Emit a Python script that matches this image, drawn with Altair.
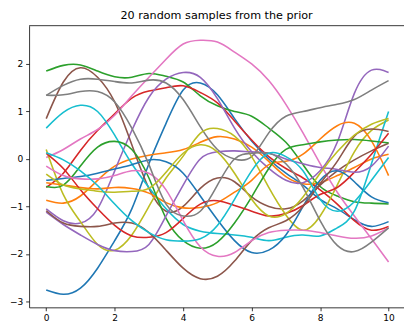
import altair as alt
import pandas as pd

XS = [i * 0.5 for i in range(21)]

blue_a = [-2.76, -2.85, -2.72, -2.3, -1.72, -1.05, -0.1, 0.75, 1.45, 1.6, 1.35, 0.85, 0.38, 0.0, -0.3, -0.55, -0.85, -1.05, -1.28, -1.42, -1.32]
orange_a = [-0.87, -0.93, -0.78, -0.45, -0.15, 0.0, 0.08, 0.13, 0.2, 0.35, 0.47, 0.42, 0.25, -0.05, -0.37, -0.52, -0.5, -0.35, -0.18, 0.0, 0.1]
green_a = [1.85, 1.97, 1.98, 1.85, 1.73, 1.72, 1.8, 1.74, 1.62, 1.33, 1.12, 1.0, 0.9, 0.65, 0.35, -0.12, -0.58, -0.78, -0.9, -0.93, -0.95]
red_a = [-0.6, -0.3, 0.18, 0.6, 0.95, 1.28, 1.43, 1.5, 1.54, 1.4, 1.18, 0.8, 0.4, 0.05, -0.2, -0.4, -0.65, -0.95, -1.3, -1.5, -1.42]
purple_a = [-1.05, -1.3, -1.35, -1.05, -0.25, 0.6, 1.3, 1.68, 1.82, 1.72, 1.27, 0.65, 0.15, -0.2, -0.45, -0.5, -0.25, 0.35, 1.38, 1.87, 1.82]
brown_a = [0.85, 1.62, 1.92, 1.72, 1.2, 0.3, -0.62, -1.1, -1.0, -0.62, -0.4, -0.48, -0.8, -1.0, -1.05, -0.88, -0.55, -0.25, -0.02, 0.17, 0.33]
pink_a = [0.03, 0.2, 0.42, 0.62, 0.92, 1.33, 1.72, 2.1, 2.42, 2.5, 2.46, 2.25, 2.0, 1.65, 1.15, 0.55, -0.1, -0.7, -1.2, -1.68, -2.17]
gray_a = [1.34, 1.55, 1.68, 1.68, 1.63, 1.6, 1.66, 1.6, 1.25, 0.68, 0.2, 0.0, 0.05, 0.55, 0.9, 1.0, 1.08, 1.15, 1.25, 1.45, 1.65]
olive_a = [0.2, -0.75, -1.32, -1.8, -1.92, -1.6, -1.0, -0.4, 0.06, 0.54, 0.64, 0.48, 0.05, -0.6, -1.18, -1.5, -1.2, -0.55, 0.15, 0.6, 0.82]
cyan_a = [0.65, 0.98, 1.13, 1.0, 0.5, -0.1, -0.6, -1.05, -1.38, -1.52, -1.57, -1.6, -1.65, -1.72, -1.65, -1.6, -1.62, -1.45, -1.1, -0.1, 1.0]

blue_b = [-0.45, -0.41, -0.37, -0.3, -0.21, -0.12, -0.02, -0.06, -0.3, -0.78, -1.28, -1.72, -1.97, -1.92, -1.6, -1.0, -0.45, -0.25, -0.48, -0.8, -0.92]
orange_b = [-0.5, -0.55, -0.6, -0.63, -0.6, -0.62, -0.72, -0.92, -1.03, -1.02, -0.92, -0.7, -0.45, -0.12, -0.05, 0.1, 0.42, 0.7, 0.75, 0.38, -0.35]
green_b = [-0.58, -0.55, -0.15, 0.25, 0.37, 0.2, -0.4, -1.25, -1.72, -1.88, -1.75, -1.35, -0.8, -0.2, 0.2, 0.3, 0.36, 0.4, 0.41, 0.38, 0.34]
red_b = [0.12, -0.2, -0.65, -1.05, -1.4, -1.62, -1.65, -1.55, -1.25, -0.95, -0.88, -0.98, -1.1, -1.2, -1.15, -0.98, -0.75, -0.6, -0.28, 0.1, 0.54]
purple_b = [-1.12, -1.38, -1.6, -1.8, -1.93, -1.95, -1.8, -1.2, -0.55, 0.0, 0.15, 0.17, 0.15, 0.12, 0.0, -0.1, -0.18, -0.22, -0.28, -0.15, 0.27]
brown_b = [-1.09, -1.35, -1.42, -1.42, -1.35, -1.35, -1.55, -1.92, -2.3, -2.52, -2.47, -2.15, -1.72, -1.45, -1.3, -1.0, -0.52, -0.05, 0.48, 0.63, 0.58]
pink_b = [-0.15, -0.35, -0.42, -0.42, -0.35, -0.25, -0.3, -0.65, -1.3, -1.85, -2.05, -1.97, -1.72, -1.55, -1.5, -1.5, -1.55, -1.62, -1.67, -1.62, -1.45]
gray_b = [1.34, 1.35, 1.42, 1.42, 1.2, 0.65, -0.12, -0.95, -1.2, -1.1, -0.55, 0.0, 0.12, 0.12, -0.1, -0.6, -1.3, -1.82, -1.95, -1.75, -1.45]
olive_b = [-0.32, -0.55, -0.63, -0.68, -0.7, -0.68, -0.62, -0.28, 0.12, 0.3, 0.15, -0.3, -0.85, -1.2, -1.15, -0.8, -0.3, 0.15, 0.5, 0.73, 0.85]
cyan_b = [0.13, -0.02, -0.25, -0.56, -0.95, -1.3, -1.55, -1.7, -1.73, -1.68, -1.4, -0.85, -0.25, 0.12, 0.05, -0.25, -0.85, -1.1, -0.9, -0.45, 0.03]

SERIES = [blue_a, orange_a, green_a, red_a, purple_a, brown_a, pink_a, gray_a, olive_a, cyan_a,
          blue_b, orange_b, green_b, red_b, purple_b, brown_b, pink_b, gray_b, olive_b, cyan_b]
TAB10 = ["#1f77b4", "#ff7f0e", "#2ca02c", "#d62728", "#9467bd",
         "#8c564b", "#e377c2", "#7f7f7f", "#bcbd22", "#17becf"]
NAMES = [f"s{i:02d}" for i in range(20)]
COLORS = [TAB10[i % 10] for i in range(20)]

X_TICKS = [0, 2, 4, 6, 8, 10]
Y_TICKS = [-3, -2, -1, 0, 1, 2]
TITLE = "20 random samples from the prior"

rows = []
for name, vals in zip(NAMES, SERIES):
    for x, y in zip(XS, vals):
        rows.append({"series": name, "x": x, "y": y})
df = pd.DataFrame(rows)

W, H = 382, 287

lines = alt.Chart(df).mark_line(strokeWidth=1.6, interpolate="natural", clip=True).encode(
    x=alt.X("x:Q", scale=alt.Scale(domain=[-0.5, 10.45], nice=False, zero=False),
            axis=alt.Axis(values=X_TICKS, title=None, format="d")),
    y=alt.Y("y:Q", scale=alt.Scale(domain=[-3.124, 2.806], nice=False, zero=False),
            axis=alt.Axis(values=Y_TICKS, title=None, format="d")),
    color=alt.Color("series:N", scale=alt.Scale(domain=NAMES, range=COLORS), legend=None),
    detail="series:N",
)

top = alt.Chart(pd.DataFrame({"a": [0]})).mark_rule(color="black", strokeWidth=0.8).encode(
    x=alt.value(0), x2=alt.value(W), y=alt.value(0)
)

chart = alt.layer(lines, top).properties(
    width=W, height=H,
    title=alt.TitleParams(TITLE, fontSize=11.4, font="DejaVu Sans", fontWeight="normal",
                          color="black", anchor="middle", offset=4),
    autosize=alt.AutoSizeParams(type="none"),
    padding={"left": 21.5, "top": 15, "right": 0, "bottom": 16},
).configure_view(stroke=None).configure_axis(
    grid=False, domainColor="black", domainWidth=0.8, tickColor="black", tickWidth=0.8,
    tickSize=3.5, labelFont="DejaVu Sans", labelFontSize=9.2, labelColor="black", labelPadding=3,
)

chart.save("out.html", embed_options={"renderer": "svg", "actions": False})
